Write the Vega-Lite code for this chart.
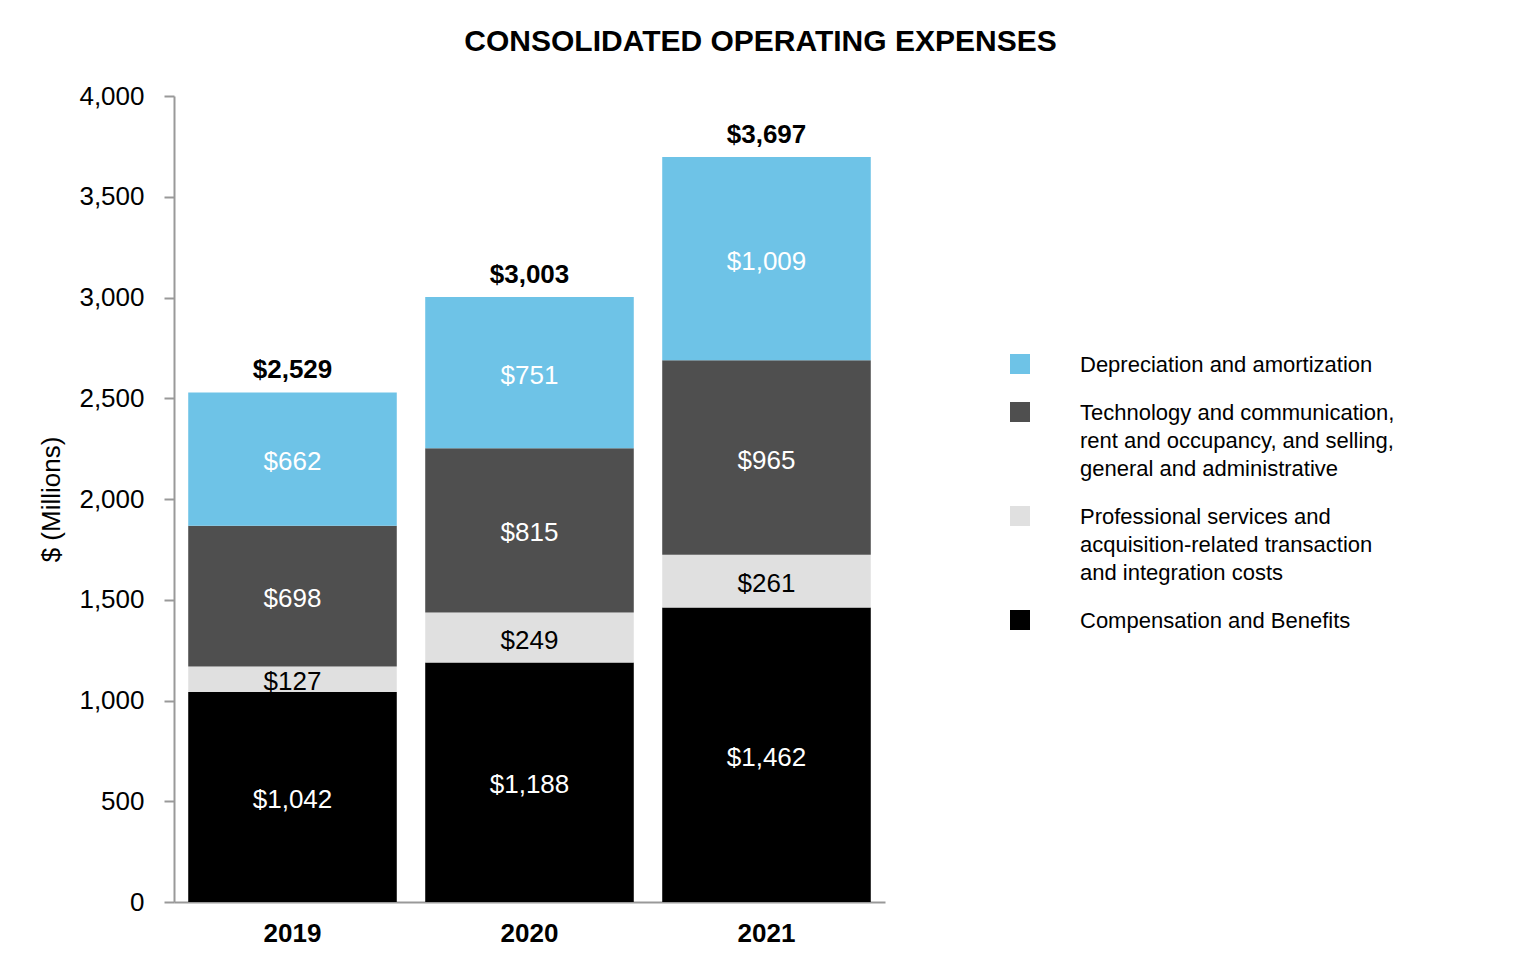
{
  "$schema": "https://vega.github.io/schema/vega-lite/v6.json",
  "width": 711,
  "height": 806,
  "autosize": {"type": "none"},
  "padding": {"left": 174, "top": 96, "right": 635, "bottom": 74},
  "background": "white",
  "title": {
    "text": "CONSOLIDATED OPERATING EXPENSES",
    "font": "Liberation Sans",
    "fontSize": 30,
    "fontWeight": "bold",
    "color": "black",
    "anchor": "middle",
    "dx": 231,
    "offset": -4,
    "baseline": "bottom"
  },
  "config": {"view": {"stroke": null}, "font": "Liberation Sans"},
  "data": {
    "values": [
      {"year": "2019", "category": "Compensation and Benefits", "value": 1042},
      {"year": "2019", "category": "Professional services and acquisition-related transaction and integration costs", "value": 127},
      {"year": "2019", "category": "Technology and communication, rent and occupancy, and selling, general and administrative", "value": 698},
      {"year": "2019", "category": "Depreciation and amortization", "value": 662},
      {"year": "2020", "category": "Compensation and Benefits", "value": 1188},
      {"year": "2020", "category": "Professional services and acquisition-related transaction and integration costs", "value": 249},
      {"year": "2020", "category": "Technology and communication, rent and occupancy, and selling, general and administrative", "value": 815},
      {"year": "2020", "category": "Depreciation and amortization", "value": 751},
      {"year": "2021", "category": "Compensation and Benefits", "value": 1462},
      {"year": "2021", "category": "Professional services and acquisition-related transaction and integration costs", "value": 261},
      {"year": "2021", "category": "Technology and communication, rent and occupancy, and selling, general and administrative", "value": 965},
      {"year": "2021", "category": "Depreciation and amortization", "value": 1009}
    ]
  },
  "transform": [
    {"calculate": "indexof(['Compensation and Benefits', 'Professional services and acquisition-related transaction and integration costs', 'Technology and communication, rent and occupancy, and selling, general and administrative', 'Depreciation and amortization'], datum.category)", "as": "stackOrder"}
  ],
  "layer": [
    {
      "mark": {"type": "bar"},
      "encoding": {
        "x": {
          "field": "year",
          "type": "ordinal",
          "scale": {"paddingInner": 0.12, "paddingOuter": 0.06},
          "axis": {
            "title": null,
            "labelAngle": 0,
            "labelFontSize": 26,
            "labelFontWeight": "bold",
            "labelColor": "black",
            "labelPadding": 18,
            "ticks": false,
            "domainColor": "#999999",
            "domainWidth": 2
          }
        },
        "y": {
          "field": "value",
          "type": "quantitative",
          "stack": "zero",
          "scale": {"domain": [0, 4000]},
          "axis": {
            "values": [0, 500, 1000, 1500, 2000, 2500, 3000, 3500, 4000],
            "format": ",d",
            "grid": false,
            "labelFontSize": 26,
            "labelColor": "black",
            "labelPadding": 20,
            "tickSize": 10,
            "tickColor": "#999999",
            "tickWidth": 2,
            "domainColor": "#999999",
            "domainWidth": 2,
            "title": "$ (Millions)",
            "titleFontSize": 26,
            "titleFontWeight": "normal",
            "titleColor": "black",
            "titlePadding": 14
          }
        },
        "order": {"field": "stackOrder", "type": "quantitative", "sort": "ascending"},
        "color": {
          "field": "category",
          "type": "nominal",
          "sort": [
            "Depreciation and amortization",
            "Technology and communication, rent and occupancy, and selling, general and administrative",
            "Professional services and acquisition-related transaction and integration costs",
            "Compensation and Benefits"
          ],
          "scale": {"range": ["#6EC3E7", "#4F4F4F", "#E0E0E0", "#000000"]},
          "legend": {
            "title": null,
            "orient": "none",
            "legendX": 835,
            "legendY": 257,
            "symbolType": "square",
            "symbolSize": 400,
            "symbolStrokeWidth": 0,
            "symbolOpacity": 1,
            "labelFontSize": 22,
            "labelColor": "black",
            "labelOffset": 49,
            "labelLimit": 500,
            "labelBaseline": "top",
            "rowPadding": 25,
            "labelExpr": "datum.label == 'Technology and communication, rent and occupancy, and selling, general and administrative' ? ['Technology and communication,', 'rent and occupancy, and selling,', 'general and administrative'] : datum.label == 'Professional services and acquisition-related transaction and integration costs' ? ['Professional services and', 'acquisition-related transaction', 'and integration costs'] : datum.label",
            "encode": {"labels": {"update": {"dy": {"value": -9}, "lineHeight": {"value": 28}}}}
          }
        }
      }
    },
    {
      "mark": {"type": "text", "fontSize": 26, "baseline": "middle", "dy": 3},
      "encoding": {
        "x": {"field": "year", "type": "ordinal"},
        "y": {"field": "value", "type": "quantitative", "stack": "zero", "bandPosition": 0.5},
        "order": {"field": "stackOrder", "type": "quantitative", "sort": "ascending"},
        "text": {"field": "value", "type": "quantitative", "format": "$,"},
        "color": {
          "field": "category",
          "type": "nominal",
          "sort": [
            "Depreciation and amortization",
            "Technology and communication, rent and occupancy, and selling, general and administrative",
            "Professional services and acquisition-related transaction and integration costs",
            "Compensation and Benefits"
          ],
          "scale": {"range": ["#FFFFFF", "#FFFFFF", "#000000", "#FFFFFF"]},
          "legend": null
        }
      }
    },
    {
      "mark": {"type": "text", "fontSize": 26, "fontWeight": "bold", "baseline": "middle", "dy": -22, "color": "black"},
      "encoding": {
        "x": {"field": "year", "type": "ordinal"},
        "y": {"aggregate": "sum", "field": "value", "type": "quantitative"},
        "text": {"aggregate": "sum", "field": "value", "type": "quantitative", "format": "$,"}
      }
    }
  ],
  "resolve": {"scale": {"color": "independent"}}
}
